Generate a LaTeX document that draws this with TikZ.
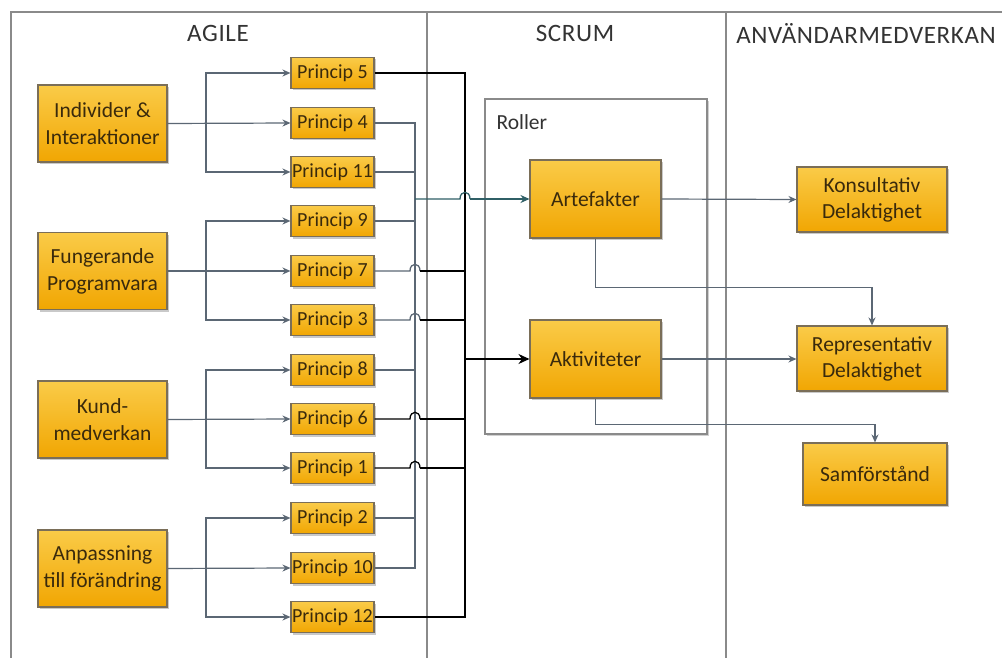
\documentclass[tikz,border=0pt]{standalone}
\usepackage{fontspec}
\setmainfont{Carlito}
\newfontfamily\titlefont[LetterSpace=2.5]{Carlito}
\usetikzlibrary{arrows.meta,shadows,calc}

\definecolor{boxtop}{HTML}{FACB48}
\definecolor{boxbot}{HTML}{F1A602}
\definecolor{boxedge}{HTML}{7A6E58}
\definecolor{boxtext}{HTML}{3A2A0C}
\definecolor{lanegray}{HTML}{8A8A8A}
\definecolor{wire}{HTML}{5B6774}
\definecolor{tealwire}{HTML}{2F5F66}
\definecolor{titletext}{HTML}{333333}

\tikzset{
  orangebox/.style={draw=boxedge, line width=1.1pt, top color=boxtop, bottom color=boxbot,
    text=boxtext, align=center, inner sep=0pt,
    drop shadow={shadow xshift=2pt, shadow yshift=-2pt, fill=black!35, opacity=0.6}},
  bigbox/.style={orangebox, minimum width=129pt, minimum height=77pt, font=\fontsize{21.5}{27}\selectfont},
  principbox/.style={orangebox, minimum width=83pt, minimum height=31pt, font=\fontsize{20}{22}\selectfont},
  midbox/.style={orangebox, minimum width=131pt, minimum height=78pt, font=\fontsize{21.5}{26}\selectfont},
  rightbox/.style={orangebox, minimum width=150pt, minimum height=65pt, font=\fontsize{21.5}{26}\selectfont},
  lane/.style={draw=lanegray, line width=1.3pt},
  lanetitle/.style={text=titletext, font=\titlefont\fontsize{25}{28}\selectfont},
  gwire/.style={draw=wire, line width=1.2pt},
  bwire/.style={draw=black, line width=1.5pt},
  twire/.style={draw=tealwire, line width=1.3pt},
  garrow/.style={gwire, -{Stealth[length=8pt,width=7pt]}},
  tarrow/.style={twire, -{Stealth[length=9pt,width=8pt]}},
  barrow/.style={bwire, -{Stealth[length=11pt,width=10pt]}},
}

\begin{document}
\begin{tikzpicture}[x=1pt,y=-1pt]
\useasboundingbox (0,0) rectangle (1002,658);
\fill[white] (0,0) rectangle (1002,658);

% swimlane frame
\draw[lane] (1002,12) -- (11,12) -- (11,658);
\draw[lane] (427,12) -- (427,658);
\draw[lane] (726,12) -- (726,658);
\node[lanetitle] (tAgile) at (218,33) {AGILE};
\node[lanetitle] (tScrum) at (575,33) {SCRUM};
\node[lanetitle] (tAnv) at (866,33) {ANVÄNDARMEDVERKAN};

% values of the agile manifesto
\node[bigbox] (ind) at (102.5,123.5) {Individer \&\\Interaktioner};
\node[bigbox] (fun) at (102.5,271) {Fungerande\\Programvara};
\node[bigbox] (kun) at (102.5,419.5) {Kund-\\medverkan};
\node[bigbox] (anp) at (102.5,568.5) {Anpassning\\till förändring};

% principles
\foreach \n/\y in {5/73,4/123,11/172,9/221,7/271,3/320,8/370,6/419,1/468,2/518,10/568,12/617}
  \node[principbox] (p\n) at (332.5,\y) {Princip \n};

% value -> principle fan-out
\coordinate (f1) at (206,123);
\coordinate (f2) at (206,271);
\coordinate (f3) at (206,419);
\coordinate (f4) at (206,568);
\draw[garrow] (ind.east) -- (p4.west);
\draw[garrow] (f1) |- (p5.west);
\draw[garrow] (f1) |- (p11.west);
\draw[garrow] (fun.east) -- (p7.west);
\draw[garrow] (f2) |- (p9.west);
\draw[garrow] (f2) |- (p3.west);
\draw[garrow] (kun.east) -- (p6.west);
\draw[garrow] (f3) |- (p8.west);
\draw[garrow] (f3) |- (p1.west);
\draw[garrow] (anp.east) -- (p10.west);
\draw[garrow] (f4) |- (p2.west);
\draw[garrow] (f4) |- (p12.west);

% collector buses
\coordinate (gtop) at (415,123);
\coordinate (gbot) at (415,568);
\coordinate (btop) at (465,73);
\coordinate (bbot) at (465,617);

\draw[gwire] (p4.east) -- (gtop) -- (gbot) -- (p10.east);
\foreach \p in {p11,p9,p8,p2}
  \draw[gwire] (\p.east) -- (\p.east -| gtop);

\draw[bwire] (p5.east) -- (btop) -- (bbot) -- (p12.east);

% lines that jump over the grey bus
\foreach \p/\c in {p7/wire,p3/wire,p6/black,p1/black}{
  \draw[draw=\c, line width=1.3pt] (\p.east) -- ($(\p.east -| gtop)+(-5,0)$)
     .. controls +(0,-9) and +(0,-9) .. ($(\p.east -| gtop)+(5,0)$);
  \draw[bwire] ($(\p.east -| gtop)+(5,0)$) -- (\p.east -| btop);
}

% Scrum roles
\node[draw=lanegray, line width=1.3pt, fill=white, minimum width=222pt, minimum height=335pt,
      inner sep=0pt, drop shadow={shadow xshift=2pt, shadow yshift=-2pt, fill=black!30, opacity=0.6}]
      (roller) at (596,266.5) {};
\node[anchor=west, text=titletext, font=\fontsize{21.5}{24}\selectfont] (rollerlbl) at (493,122) {Roller};

\node[midbox] (art) at (595.5,199) {Artefakter};
\node[midbox] (akt) at (595.5,359) {Aktiviteter};

% buses into Scrum
\coordinate (tstart) at (415,199);
\draw[twire] (tstart) -- ($(tstart -| btop)+(-5,0)$)
   .. controls +(0,-9) and +(0,-9) .. ($(tstart -| btop)+(5,0)$);
\draw[tarrow] ($(tstart -| btop)+(5,0)$) -- (art.west);
\draw[barrow] (akt.west -| btop) -- (akt.west);

% user participation
\node[rightbox] (kon) at (872,199.5) {Konsultativ\\Delaktighet};
\node[rightbox] (rep) at (872,358.5) {Representativ\\Delaktighet};
\node[rightbox, minimum width=144pt, minimum height=62pt] (sam) at (875,474) {Samförstånd};

\draw[garrow] (art.east) -- (kon.west);
\draw[garrow] (art.south) -- ++(0,49) -| (rep.north);
\draw[garrow] (akt.east) -- (akt.east -| rep.west);
\draw[garrow] (akt.south) -- ++(0,26) -| (sam.north);
\end{tikzpicture}
\end{document}
